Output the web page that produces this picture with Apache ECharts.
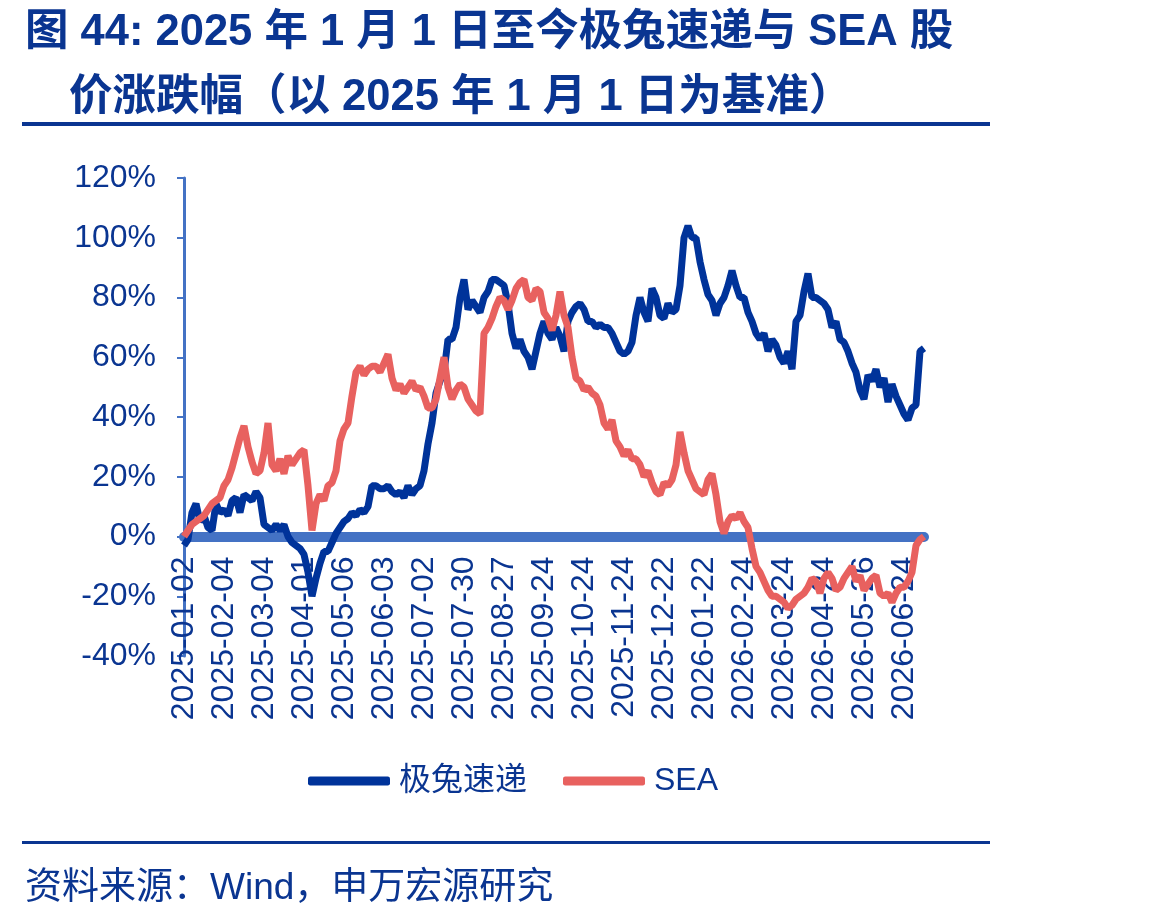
<!DOCTYPE html>
<html>
<head>
<meta charset="utf-8">
<script src="https://cdn.jsdelivr.net/npm/echarts@6/dist/echarts.min.js"></script>
<style>
  html, body { margin: 0; padding: 0; background: #fff; }
  #chart { width: 1161px; height: 919px; }
</style>
</head>
<body>
<div id="chart"></div>
<script>
// 横轴刻度（每20个交易日一个）
const tickLabels = ['2025-01-02', '2025-02-04', '2025-03-04', '2025-04-01', '2025-05-06', '2025-06-03',
  '2025-07-02', '2025-07-30', '2025-08-27', '2025-09-24', '2025-10-24', '2025-11-24', '2025-12-22',
  '2026-01-22', '2026-02-24', '2026-03-24', '2026-04-24', '2026-05-26', '2026-06-24']

// 极兔速递 涨跌幅（%），每2个交易日取一点
const jtValues = [
  -3, -1, 8, 11, 5, 7, 3, 2, 11, 8, 9, 7, 12, 13, 8, 14, 13, 12, 15, 13,
  4, 3, 2, 4, 2, 4, 0, -2, -3, -4, -6, -12, -20, -14, -9, -5, -5, -2, 1, 3,
  5, 6, 8, 7, 9, 8, 10, 17, 17, 16, 16, 17, 15, 14, 15, 13, 17, 14, 16, 17,
  22, 31, 38, 48, 52, 55, 66, 66, 70, 80, 86, 76, 79, 77, 75, 80, 82, 86, 86, 85,
  84, 78, 68, 63, 66, 62, 60, 56, 62, 68, 72, 68, 66, 70, 67, 62, 72, 75, 77, 78,
  76, 72, 72, 70, 71, 70, 70, 68, 65, 62, 61, 62, 65, 74, 80, 75, 72, 83, 80, 74,
  73, 78, 75, 76, 84, 100, 104, 100, 100, 92, 86, 81, 79, 74, 78, 80, 84, 89, 84, 80,
  80, 75, 72, 68, 66, 68, 62, 66, 64, 60, 58, 62, 56, 72, 74, 82, 88, 80, 80, 79,
  78, 76, 70, 72, 66, 65, 62, 58, 55, 49, 46, 54, 52, 56, 50, 53, 45, 51, 47, 44,
  41, 39, 43, 44, 62, 63
]

// SEA 涨跌幅（%）
const seaValues = [
  0, 2, 4, 5, 6, 7, 9, 11, 12, 13, 17, 19, 23, 28, 33, 37, 30, 25, 21, 22,
  28, 38, 24, 22, 26, 21, 27, 24, 26, 28, 29, 17, 2, 11, 14, 12, 17, 18, 22, 32,
  36, 38, 47, 55, 57, 54, 56, 57, 57, 55, 58, 61, 53, 49, 51, 48, 50, 52, 49, 50,
  47, 43, 43, 46, 53, 60, 50, 46, 49, 51, 50, 46, 44, 42, 41, 68, 70, 73, 77, 80,
  79, 76, 79, 83, 85, 86, 80, 79, 83, 82, 75, 73, 69, 74, 82, 74, 70, 60, 53, 52,
  49, 50, 48, 47, 44, 38, 36, 39, 32, 30, 27, 29, 26, 26, 24, 20, 22, 18, 15, 14,
  18, 17, 19, 24, 35, 28, 22, 19, 16, 15, 14, 19, 21, 14, 5, 1, 5, 7, 6, 8,
  5, 3, -4, -10, -12, -15, -18, -20, -20, -21, -22, -24, -23, -21, -20, -19, -17, -14, -15, -19,
  -14, -12, -14, -18, -17, -14, -12, -10, -15, -13, -18, -16, -14, -13, -19, -20, -19, -22, -19, -17,
  -17, -15, -12, -3, -1, 0
]

const step = 10
const categories = jtValues.map((v, i) => (i % step === 0 && tickLabels[i / step]) ? tickLabels[i / step] : '')

const navy = '#0A3591'
const font = "'Liberation Sans', 'Noto Sans CJK SC', sans-serif"

const chart = echarts.init(document.getElementById('chart'))
chart.setOption({
  backgroundColor: '#fff',
  animation: false,
  textStyle: { fontFamily: font },
  title: [
    {
      text: '图 44: 2025 年 1 月 1 日至今极兔速递与 SEA 股',
      left: 20, top: 6,
      textStyle: { color: navy, fontSize: 43.5, fontWeight: 'bold', fontFamily: font }
    },
    {
      text: '价涨跌幅（以 2025 年 1 月 1 日为基准）',
      left: 64, top: 71,
      textStyle: { color: navy, fontSize: 43.5, fontWeight: 'bold', fontFamily: font }
    },
    {
      text: '资料来源：Wind，申万宏源研究',
      left: 20, top: 865,
      textStyle: { color: navy, fontSize: 37, fontWeight: 'normal', fontFamily: font }
    }
  ],
  graphic: [
    { type: 'rect', shape: { x: 22, y: 122, width: 968, height: 4 }, style: { fill: navy } },
    { type: 'rect', shape: { x: 22, y: 841, width: 968, height: 3 }, style: { fill: navy } }
  ],
  legend: {
    left: 303, top: 760,
    icon: 'roundRect',
    itemWidth: 82, itemHeight: 9,
    itemGap: 36,
    textStyle: { color: navy, fontSize: 32, fontFamily: font, padding: [0, 0, 0, 4] },
    data: ['极兔速递', 'SEA']
  },
  grid: { left: 184, top: 178, width: 740, height: 478 },
  xAxis: {
    type: 'category',
    data: categories,
    boundaryGap: false,
    // 轴线与标签放在 0% 处
    offset: -119.5,
    axisLine: { onZero: false, lineStyle: { color: '#4472C4', width: 10 } },
    axisTick: { show: false },
    axisLabel: {
      interval: step - 1,
      rotate: 90,
      margin: 20,
      color: navy,
      fontSize: 32,
      fontFamily: font
    },
    splitLine: { show: false }
  },
  yAxis: {
    type: 'value',
    min: -40, max: 120, interval: 20,
    axisLine: { show: true, lineStyle: { color: '#4472C4', width: 3 } },
    axisTick: { show: true, length: 7, lineStyle: { color: '#4472C4', width: 2 } },
    axisLabel: { formatter: '{value}%', color: navy, fontSize: 32, margin: 28, fontFamily: font },
    splitLine: { show: false }
  },
  series: [
    {
      name: '极兔速递',
      type: 'line',
      data: jtValues,
      symbol: 'none',
      lineStyle: { color: '#00339A', width: 7 },
      itemStyle: { color: '#00339A' }
    },
    {
      name: 'SEA',
      type: 'line',
      data: seaValues,
      symbol: 'none',
      lineStyle: { color: '#E8615F', width: 7 },
      itemStyle: { color: '#E8615F' }
    }
  ]
})
</script>
</body>
</html>
